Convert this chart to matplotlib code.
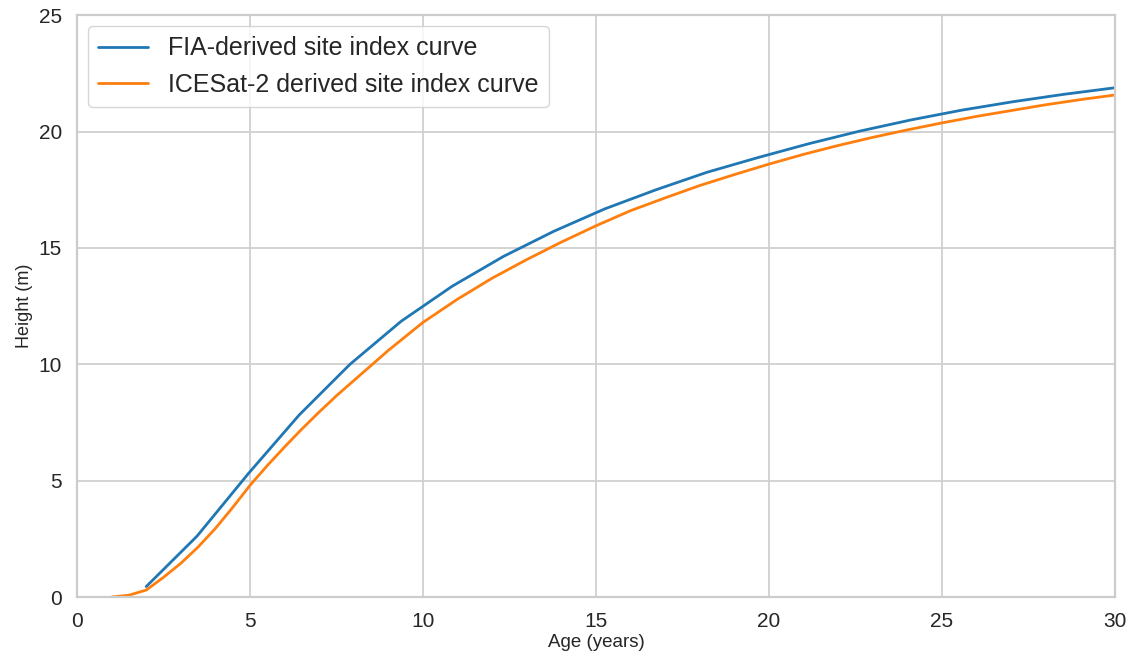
import matplotlib
matplotlib.use("Agg")
from matplotlib import pyplot as plt
import seaborn as sns
import numpy as np

# FIA curve (coarse, piecewise)
fia_age = [2.0, 3.47, 4.95, 6.42, 7.89, 9.37, 10.84, 12.32, 13.79, 15.26,
           16.74, 18.21, 19.68, 21.16, 22.63, 24.11, 25.58, 27.05, 28.53, 30.0]
fia_height = [0.45, 2.62, 5.3, 7.82, 10.0, 11.85, 13.35, 14.63, 15.72, 16.68,
              17.5, 18.25, 18.88, 19.48, 20.02, 20.5, 20.92, 21.28, 21.6, 21.88]

# ICESat-2 curve
ice_age = [1.0, 1.5, 2.0, 2.5, 3.0, 3.5, 4.0, 4.5, 5.0, 5.5, 6.0, 6.5, 7.0, 7.5,
           8.0, 9.0, 10.0, 11.0, 12.0, 13.0, 14.0, 15.0, 16.0, 17.0, 18.0,
           19.0, 20.0, 21.0, 22.0, 23.0, 24.0, 25.0, 26.0, 27.0, 28.0, 29.0, 30.0]
ice_height = [0.0, 0.08, 0.3, 0.85, 1.45, 2.15, 2.95, 3.85, 4.8, 5.65, 6.45,
              7.22, 7.95, 8.65, 9.3, 10.6, 11.8, 12.8, 13.7, 14.5, 15.25, 15.95,
              16.6, 17.15, 17.68, 18.15, 18.6, 19.02, 19.4, 19.75, 20.07, 20.37,
              20.65, 20.9, 21.15, 21.37, 21.57]

sns.set_style("whitegrid")
plt.rcParams['font.family'] = ['Liberation Sans', 'DejaVu Sans']

fig, ax = plt.subplots(figsize=(11.33, 6.59), dpi=100)
fig.subplots_adjust(left=0.068, right=0.984, top=0.977, bottom=0.094)

ax.plot(fia_age, fia_height, color='#1f77b4', lw=2.0, label='FIA-derived site index curve')
ax.plot(ice_age, ice_height, color='#ff7f0e', lw=2.0, label='ICESat-2 derived site index curve')

ax.set_xlim(0, 30)
ax.set_ylim(0, 25)
ax.set_xlabel('Age (years)', fontsize=13.5, labelpad=2)
ax.set_ylabel('Height (m)', fontsize=13)
ax.tick_params(labelsize=15, length=0, pad=11)
ax.grid(lw=1.3, color='#d0d0d0')
for s in ax.spines.values():
    s.set_linewidth(1.6)
    s.set_color('#cccccc')
ax.legend(loc='upper left', fontsize=18, handlelength=2.0, borderaxespad=0.45)

plt.savefig("out.png")
